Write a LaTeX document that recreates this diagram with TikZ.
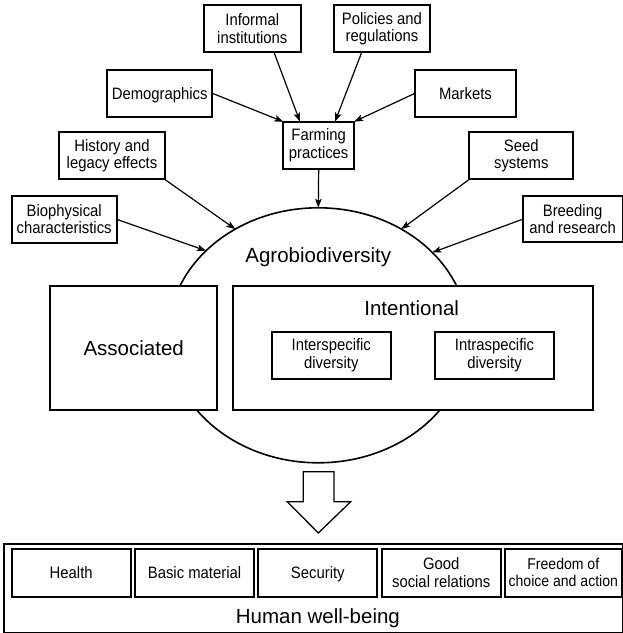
\documentclass[tikz,border=0pt]{standalone}
\usepackage{fontspec}
\setmainfont{Liberation Sans}
\newfontfamily\narrowfont{Liberation Sans}[FakeStretch=0.9]
\usetikzlibrary{shapes.geometric,arrows.meta}
\tikzset{
  box/.style={draw, line width=1.8pt, fill=white, inner sep=0pt, outer sep=0pt, align=center,
              font=\narrowfont\fontsize{16.5}{17.5}\selectfont},
  big/.style={font=\fontsize{20.5}{24}\selectfont, inner sep=0pt},
  conn/.style={line width=1.2pt, -{Stealth[length=9pt,width=6.5pt,inset=2pt]}},
}
\begin{document}
\begin{tikzpicture}[x=1pt,y=-1pt]
\useasboundingbox (0,0) rectangle (623,633);
% top factor boxes
\node[box, minimum width=96.7, minimum height=47.3] (inf) at (252.3,28.7) {Informal\\institutions};
\node[box, minimum width=96, minimum height=47.3] (pol) at (382,28.7) {Policies and\\regulations};
\node[box, text depth=0pt, minimum width=105.3, minimum height=46.7] (demo) at (159.7,93.3) {Demographics};
\node[box, minimum width=101, minimum height=46.7] (mark) at (465.5,93.3) {Markets};
\node[box, minimum width=70.7, minimum height=47] (farm) at (318.7,145.2) {Farming\\practices};
\node[box, minimum width=105.4, minimum height=47.3] (hist) at (112,155.7) {History and\\legacy effects};
\node[box, minimum width=104, minimum height=47.3] (seed) at (521.3,155.7) {Seed\\systems};
\node[box, minimum width=105, minimum height=46.7] (bio) at (64.2,219.3) {Biophysical\\characteristics};
\node[box, minimum width=99.8, minimum height=46.3] (breed) at (572.6,219.2) {Breeding\\and research};
% agrobiodiversity ellipse
\node[ellipse, draw, line width=1.6pt, minimum width=300, minimum height=255, inner sep=0pt, outer sep=0pt] (agro) at (318.3,335.3) {};
\node[big, anchor=base] (agrot) at (318.3,262.3) {Agrobiodiversity};
\node[box, big, draw, line width=1.8pt, minimum width=167.3, minimum height=124] (assoc) at (133.7,348) {Associated};
\node[box, minimum width=360, minimum height=124] (intl) at (412.7,348) {};
\node[big, anchor=base] (intlt) at (411.7,315) {Intentional};
\node[box, minimum width=118.7, minimum height=46.7] (inter) at (331.3,355.3) {Interspecific\\diversity};
\node[box, minimum width=119, minimum height=46.7] (intra) at (494.5,355.3) {Intraspecific\\diversity};
% connectors
\draw[conn] ([xshift=21.7pt]inf.south) -- ([xshift=-18.7pt]farm.north);
\draw[conn] ([xshift=-20.3pt]pol.south) -- ([xshift=16.3pt]farm.north);
\draw[conn] (demo.east) -- (farm.north west);
\draw[conn] (mark.west) -- (farm.north east);
\draw[conn] (farm.south) -- (agro.north);
\draw[conn] (hist.south east) -- (agro.128.4);
\draw[conn] (bio.east) -- (agro.143.7);
\draw[conn] (seed.south west) -- (agro.52);
\draw[conn] (breed.west) -- (agro.36);
% hollow arrow
\draw[line width=1.3pt, line join=miter] (303.3,471.7) -- (334,471.7) -- (334,501.7) -- (350.7,501.7)
  -- (318.3,533) -- (287.3,501.7) -- (303.3,501.7) -- cycle;
% human well-being
\node[draw, line width=1.8pt, minimum width=618.5, minimum height=88.7, inner sep=0pt] (hwb) at (313.3,588.3) {};
\node[big, anchor=base] (hwbt) at (317.9,623.3) {Human well-being};
\node[box, minimum width=119, minimum height=47.7] (health) at (71.2,572.8) {Health};
\node[box, minimum width=119, minimum height=47.7] (basic) at (194.5,572.8) {Basic material};
\node[box, text depth=0pt, minimum width=119, minimum height=47.7] (secu) at (317.8,572.8) {Security};
\node[box, minimum width=119, minimum height=47.7] (good) at (441.2,572.8) {Good\\social relations};
\node[box, minimum width=116.7, minimum height=47.7, font=\narrowfont\fontsize{15.6}{17}\selectfont] (free) at (563.3,572.8) {Freedom of\\choice and action};
\end{tikzpicture}
\end{document}
